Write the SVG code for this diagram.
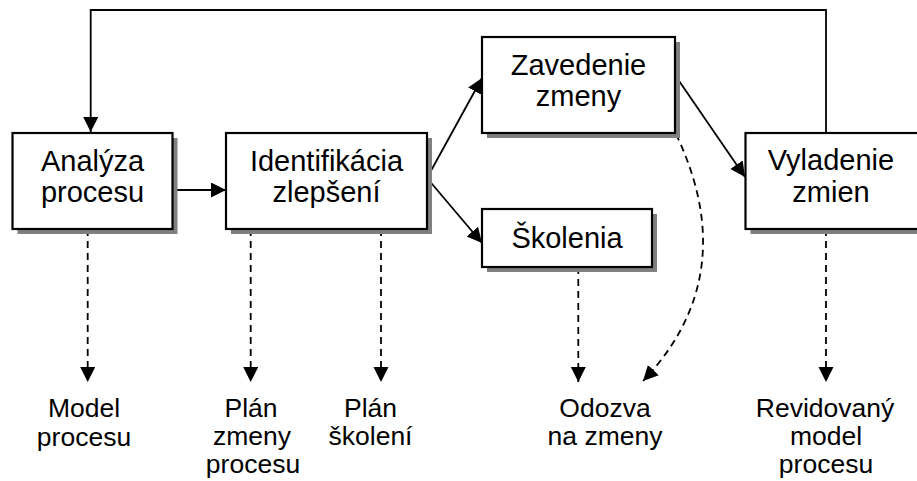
<svg xmlns="http://www.w3.org/2000/svg" width="917" height="481" viewBox="0 0 917 481">
<style>
.box{fill:#fff;stroke:#000;stroke-width:2.2}
.shadow{fill:#808080}
.bt{font-family:"Liberation Sans",Arial,sans-serif;font-size:29px;text-anchor:middle;fill:#000}
.lt{font-family:"Liberation Sans",Arial,sans-serif;font-size:26.5px;text-anchor:middle;fill:#000}
.c{fill:none;stroke:#000;stroke-width:1.8}
.d{fill:none;stroke:#000;stroke-width:1.8;stroke-dasharray:7 5}
</style>
<defs>
<marker id="ah" markerUnits="userSpaceOnUse" markerWidth="17" markerHeight="16" refX="15" refY="7.5" orient="auto" viewBox="0 0 17 16">
<path d="M0,0 L15,7.5 L0,15 z" fill="#000"/>
</marker>
</defs>
<g id="connectors">
<path class="c" d="M826,133 V10 H90.7 V132" marker-end="url(#ah)"/>
<path class="c" d="M172,190 H226" marker-end="url(#ah)"/>
<path class="c" d="M427,178 L482,78" marker-end="url(#ah)"/>
<path class="c" d="M427,178 L482,243" marker-end="url(#ah)"/>
<path class="c" d="M675,75 L745,177" marker-end="url(#ah)"/>
<path class="d" d="M87.7,229 V382" marker-end="url(#ah)"/>
<path class="d" d="M250.7,229 V382" marker-end="url(#ah)"/>
<path class="d" d="M381,229 V382" marker-end="url(#ah)"/>
<path class="d" d="M578.3,267 V382" marker-end="url(#ah)"/>
<path class="d" d="M676,134 C705,195 730,290 643,381" marker-end="url(#ah)"/>
<path class="d" d="M826,229 V382" marker-end="url(#ah)"/>
</g>
<g id="analyza">
<rect class="shadow" x="17.5" y="138" width="160" height="96"/>
<rect class="box" x="12.5" y="133" width="160" height="96"/>
<text class="bt" x="92.5" y="171">Analýza</text>
<text class="bt" x="92.5" y="202">procesu</text>
</g>
<g id="identifikacia">
<rect class="shadow" x="231" y="138" width="201" height="96"/>
<rect class="box" x="226" y="133" width="201" height="96"/>
<text class="bt" x="326.5" y="171">Identifikácia</text>
<text class="bt" x="326.5" y="202">zlepšení</text>
</g>
<g id="zavedenie">
<rect class="shadow" x="487" y="42" width="193" height="96"/>
<rect class="box" x="482" y="37" width="193" height="96"/>
<text class="bt" x="578.5" y="75">Zavedenie</text>
<text class="bt" x="578.5" y="106">zmeny</text>
</g>
<g id="skolenia">
<rect class="shadow" x="487" y="214" width="170" height="58"/>
<rect class="box" x="482" y="209" width="170" height="58"/>
<text class="bt" x="567" y="248">Školenia</text>
</g>
<g id="vyladenie">
<rect class="shadow" x="750.5" y="138" width="180" height="96"/>
<rect class="box" x="745.5" y="133" width="180" height="96"/>
<text class="bt" x="831" y="170">Vyladenie</text>
<text class="bt" x="831" y="202">zmien</text>
</g>
<g id="model-procesu">
<text class="lt" x="84" y="417">Model</text>
<text class="lt" x="84" y="446">procesu</text>
</g>
<g id="plan-zmeny">
<text class="lt" x="251" y="417">Plán</text>
<text class="lt" x="252" y="445">zmeny</text>
<text class="lt" x="253" y="473">procesu</text>
</g>
<g id="plan-skoleni">
<text class="lt" x="370.5" y="417">Plán</text>
<text class="lt" x="370.5" y="445">školení</text>
</g>
<g id="odozva">
<text class="lt" x="605" y="417">Odozva</text>
<text class="lt" x="605" y="445">na zmeny</text>
</g>
<g id="revidovany">
<text class="lt" x="825" y="417">Revidovaný</text>
<text class="lt" x="826" y="445">model</text>
<text class="lt" x="826" y="473">procesu</text>
</g>
</svg>
